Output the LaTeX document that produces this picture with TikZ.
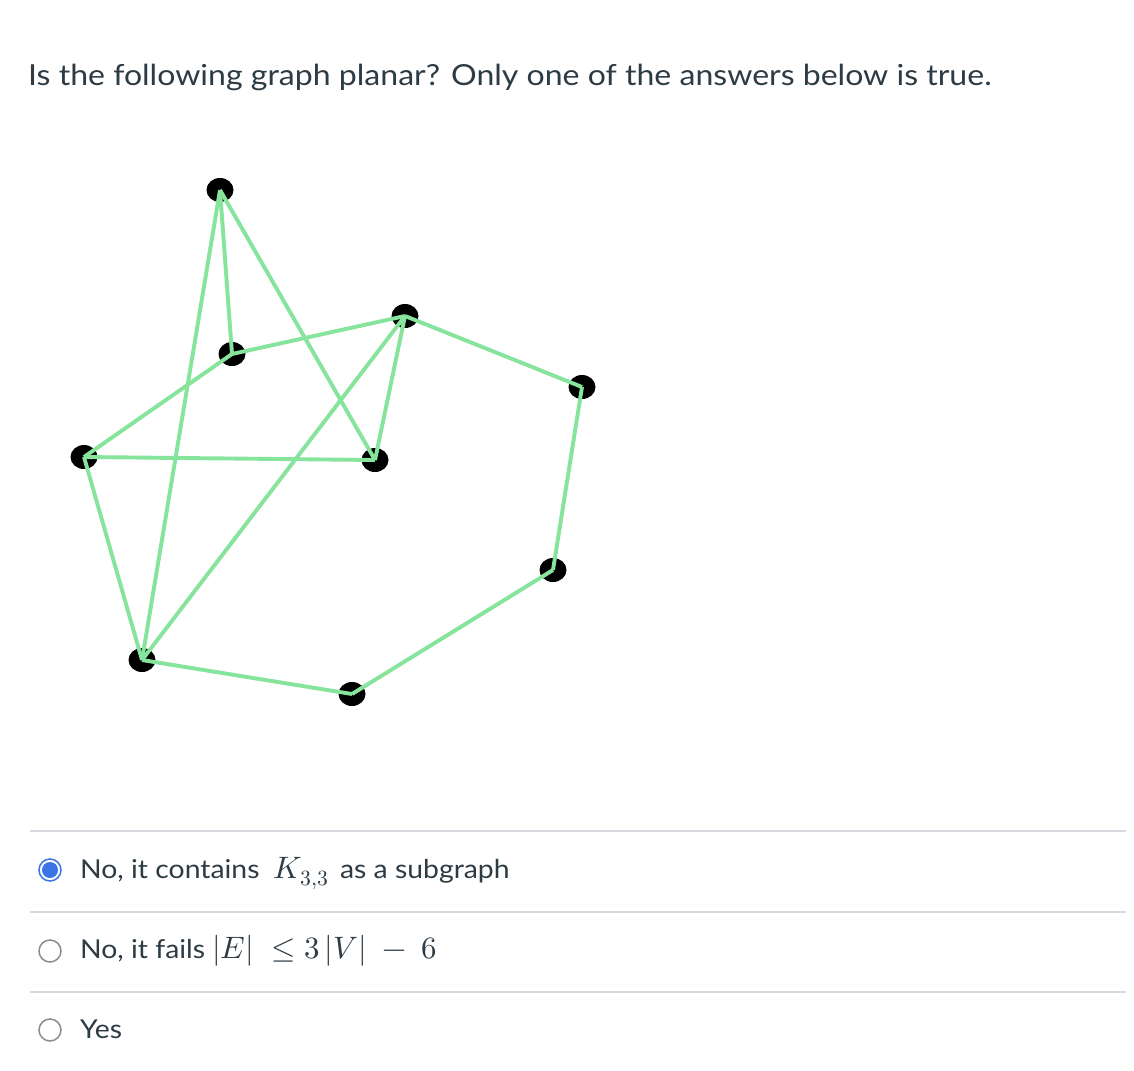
\documentclass[tikz,border=0pt]{standalone}
\usepackage{fontspec}
\setmainfont{Lato}[FakeStretch=1.09]
\newfontfamily\titlefont{Lato}[FakeStretch=1.105]
\usepackage{amsmath}
\usepackage{unicode-math}
\setmathfont{Latin Modern Math}
\usetikzlibrary{shapes.geometric}
\definecolor{txt}{RGB}{45,59,69}
\definecolor{edgegreen}{RGB}{134,228,156}
\definecolor{sep}{RGB}{214,218,222}
\definecolor{radioblue}{RGB}{59,115,230}
\definecolor{radiogray}{RGB}{140,140,140}
\newcommand{\bigmath}[1]{{\fontsize{31}{31}\selectfont$#1$}}
\tikzset{
  vtx/.style={ellipse, fill=black, minimum width=27pt, minimum height=24pt, inner sep=0pt},
  edg/.style={draw=edgegreen, line width=3.9pt},
  lbl/.style={anchor=base west, text=txt, inner sep=0pt, font=\fontsize{26}{30}\selectfont},
  seprule/.style={draw=sep, line width=1.2pt},
  radio/.style={circle, draw=radiogray, line width=1.5pt, fill=white, minimum size=22pt, inner sep=0pt}
}
\begin{document}
\begin{tikzpicture}[x=1pt,y=-1pt]
\useasboundingbox[fill=white] (0,0) rectangle (1134,1070);
\node[lbl, font=\titlefont\fontsize{29}{34}\selectfont] (title) at (28,86) {Is the following graph planar? Only one of the answers below is true.};
% vertices
\node[vtx] (A) at (220,190) {};
\node[vtx] (B) at (232,354) {};
\node[vtx] (C) at (405,316) {};
\node[vtx] (D) at (582,387) {};
\node[vtx] (E) at (84,457) {};
\node[vtx] (F) at (375,460) {};
\node[vtx] (G) at (553,570) {};
\node[vtx] (H) at (142,660) {};
\node[vtx] (I) at (352,694) {};
% edges
\draw[edg] (A.center) -- (B.center);
\draw[edg] (A.center) -- (H.center);
\draw[edg] (A.center) -- (F.center);
\draw[edg] (B.center) -- (C.center);
\draw[edg] (B.center) -- (E.center);
\draw[edg] (C.center) -- (D.center);
\draw[edg] (C.center) -- (F.center);
\draw[edg] (C.center) -- (H.center);
\draw[edg] (D.center) -- (G.center);
\draw[edg] (E.center) -- (F.center);
\draw[edg] (E.center) -- (H.center);
\draw[edg] (G.center) -- (I.center);
\draw[edg] (H.center) -- (I.center);
% separators
\coordinate (s1l) at (30,831); \coordinate (s1r) at (1126,831);
\coordinate (s2l) at (30,912); \coordinate (s2r) at (1126,912);
\coordinate (s3l) at (30,992); \coordinate (s3r) at (1126,992);
\draw[seprule] (s1l) -- (s1r);
\draw[seprule] (s2l) -- (s2r);
\draw[seprule] (s3l) -- (s3r);
% radio buttons
\node[radio, draw=radioblue] (r1) at (50,870) {};
\fill[radioblue] (r1.center) circle (8pt);
\node[radio] (r2) at (50,951) {};
\node[radio] (r3) at (50,1030) {};
% labels
\node[lbl] (l1) at (80,878) {No, it contains \ \bigmath{K_{3,3}}\ \,as a subgraph};
\node[lbl] (l2) at (80,958) {No, it fails \bigmath{|E|\ \leq 3\,|V|\ -\ 6}};
\node[lbl] (l3) at (80,1038) {Yes};
\end{tikzpicture}
\end{document}
